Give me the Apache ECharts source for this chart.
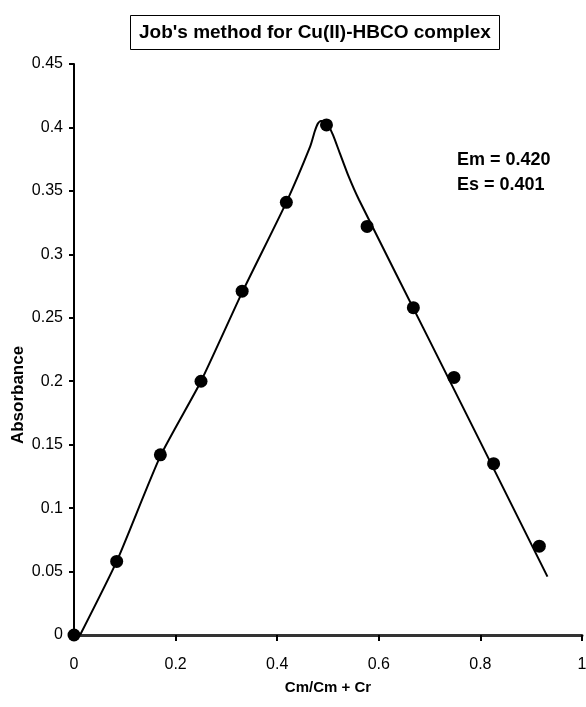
<!DOCTYPE html>
<html>
<head>
<meta charset="utf-8">
<script src="https://cdn.jsdelivr.net/npm/echarts@6/dist/echarts.min.js"></script>
<style>html,body{margin:0;padding:0;background:#fff;}#c{width:586px;height:707px;}</style>
</head>
<body>
<div id="c"></div>
<script>
// Measured points (mole fraction vs absorbance)
var moleFraction = [0, 0.084, 0.170, 0.250, 0.331, 0.418, 0.497, 0.577, 0.668, 0.748, 0.826, 0.916];
var absorbance   = [0, 0.058, 0.142, 0.200, 0.271, 0.341, 0.402, 0.322, 0.258, 0.203, 0.135, 0.070];
// Fitted curve
var curveX = [0.012, 0.084, 0.170, 0.250, 0.331, 0.418, 0.465, 0.474, 0.480, 0.486, 0.493, 0.500, 0.510, 0.523, 0.540, 0.561, 0.700, 0.800, 0.932];
var curveY = [0, 0.058, 0.141, 0.200, 0.270, 0.341, 0.385, 0.397, 0.403, 0.405, 0.405, 0.402, 0.394, 0.380, 0.362, 0.343, 0.232, 0.152, 0.046];
var xTicks = [0, 0.2, 0.4, 0.6, 0.8, 1];
var yTicks = [0, 0.05, 0.1, 0.15, 0.2, 0.25, 0.3, 0.35, 0.4, 0.45];
var titleText = "Job's method for Cu(II)-HBCO complex";
var xName = 'Cm/Cm + Cr';
var yName = 'Absorbance';
var noteLines = ['Em = 0.420', 'Es = 0.401'];

var pts = moleFraction.map(function (x, i) { return [x, absorbance[i]]; });
var curve = curveX.map(function (x, i) { return [x, curveY[i]]; });
var FONT = 'Liberation Sans, Arial, sans-serif';
function fmt(v) { return String(+(+v).toFixed(2)); }

var chart = echarts.init(document.getElementById('c'));
chart.setOption({
  animation: false,
  backgroundColor: '#fff',
  title: {
    text: titleText,
    left: 130,
    top: 15,
    padding: [8, 9, 8, 9],
    borderColor: '#000',
    borderWidth: 1,
    textStyle: { fontFamily: FONT, fontSize: 19, fontWeight: 'bold', color: '#000' }
  },
  grid: { left: 74, right: 4, top: 64, bottom: 72, containLabel: false, outerBoundsMode: 'none' },
  xAxis: {
    type: 'value', min: 0, max: 1, interval: 0.2,
    name: xName, nameLocation: 'middle', nameGap: 45,
    nameTextStyle: { fontFamily: FONT, fontSize: 15, fontWeight: 'bold', color: '#000' },
    axisLine: { show: true, onZero: false, lineStyle: { color: '#333', width: 3 } },
    axisTick: { show: true, inside: false, length: 6, lineStyle: { color: '#000', width: 2 } },
    axisLabel: { fontFamily: FONT, fontSize: 16, color: '#000', margin: 22,
      formatter: function (v) { return xTicks.indexOf(+(+v).toFixed(2)) >= 0 ? fmt(v) : ''; } },
    splitLine: { show: false }
  },
  yAxis: {
    type: 'value', min: 0, max: 0.45, interval: 0.05,
    axisLine: { show: true, onZero: false, lineStyle: { color: '#000', width: 2 } },
    axisTick: { show: true, inside: false, length: 5, lineStyle: { color: '#000', width: 2 } },
    axisLabel: { fontFamily: FONT, fontSize: 16, color: '#000', margin: 11,
      formatter: function (v) { return yTicks.indexOf(+(+v).toFixed(2)) >= 0 ? fmt(v) : ''; } },
    splitLine: { show: false }
  },
  graphic: [
    { type: 'text', x: 18, y: 395, rotation: Math.PI / 2,
      style: { text: yName, font: 'bold 17px ' + FONT, fill: '#000', align: 'center', verticalAlign: 'middle' } },
    { type: 'text', left: 457, top: 151, style: { text: noteLines[0], font: 'bold 18px ' + FONT, fill: '#000' } },
    { type: 'text', left: 457, top: 176, style: { text: noteLines[1], font: 'bold 18px ' + FONT, fill: '#000' } }
  ],
  series: [
    { type: 'line', data: curve, showSymbol: false, smooth: 0.2, clip: false,
      lineStyle: { color: '#000', width: 2 }, z: 2 },
    { type: 'scatter', data: pts, symbol: 'circle', symbolSize: 13, clip: false,
      itemStyle: { color: '#000', opacity: 1 }, z: 3 }
  ]
});
</script>
</body>
</html>
